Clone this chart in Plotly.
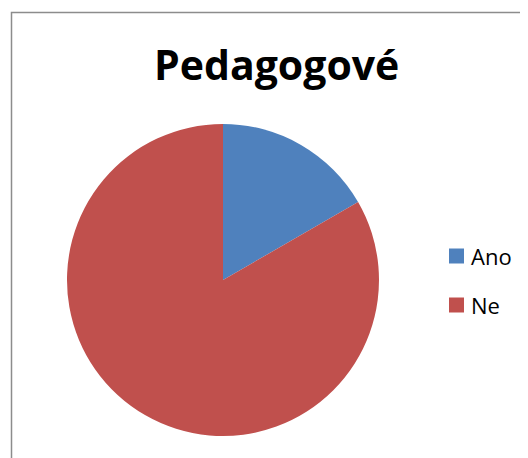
import plotly.graph_objects as go

labels = ["Ano", "Ne"]
values = [1, 5]
colors = ["#4F81BD", "#C0504D"]
title_text = "Pedagogové"

W, H = 528, 458
OFF = 8  # page body margin offset

def px(x):
    return (x - OFF) / W

def py(y):
    return 1 - (y - OFF) / H

fig = go.Figure()
fig.add_trace(go.Pie(
    labels=labels,
    values=values,
    marker=dict(colors=colors, line=dict(width=0)),
    sort=False,
    direction="clockwise",
    rotation=0,
    textinfo="none",
    hoverinfo="label+value+percent",
    showlegend=False,
    domain=dict(x=[px(67), px(379)], y=[py(436), py(124)]),
))

# chart border (left/top visible, right/bottom clipped)
fig.add_shape(type="rect", xref="paper", yref="paper",
              x0=px(11.5), x1=px(545), y0=py(475), y1=py(12.5),
              line=dict(color="#8C8C8C", width=1.5), fillcolor="rgba(0,0,0,0)")

# title
fig.add_annotation(text="<b>" + title_text + "</b>", xref="paper", yref="paper",
                   x=px(276), y=py(64), showarrow=False,
                   font=dict(family="Open Sans", size=41, color="#000000"),
                   xanchor="center", yanchor="middle")

# legend
leg_y = [256, 305]
for lab, col, yy in zip(labels, colors, leg_y):
    fig.add_shape(type="rect", xref="paper", yref="paper",
                  x0=px(449), x1=px(464), y0=py(yy + 7.5), y1=py(yy - 7.5),
                  line=dict(width=0), fillcolor=col)
    fig.add_annotation(text=lab, xref="paper", yref="paper",
                       x=px(469), y=py(yy), showarrow=False,
                       font=dict(family="Open Sans", size=22, color="#000000"),
                       xanchor="left", yanchor="middle")

fig.update_layout(
    width=W, height=H,
    margin=dict(l=0, r=0, t=0, b=0),
    paper_bgcolor="white",
    plot_bgcolor="white",
)

fig.write_html("out.html")
